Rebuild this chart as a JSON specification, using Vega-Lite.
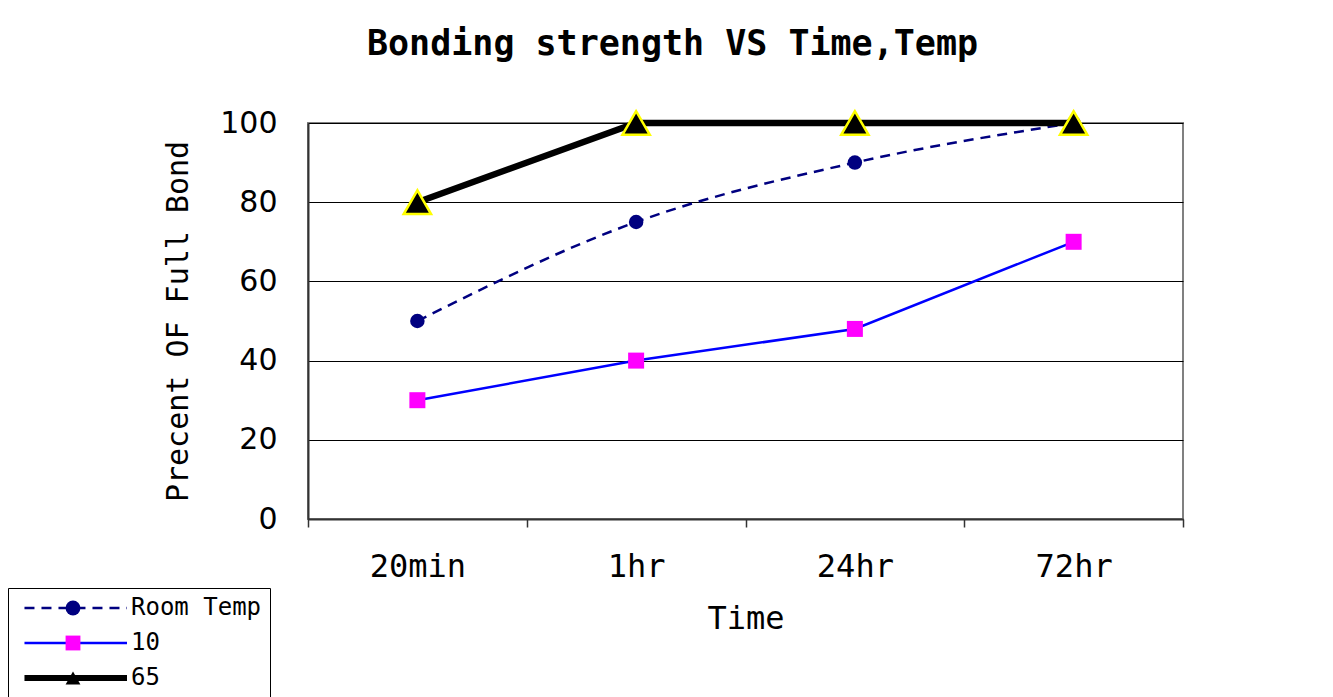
{
  "$schema": "https://vega.github.io/schema/vega-lite/v6.json",
  "autosize": "none",
  "padding": {"left": 308, "top": 123, "right": 150, "bottom": 178},
  "width": 875,
  "height": 396,
  "background": "white",
  "title": {
    "text": "Bonding strength VS Time,Temp",
    "font": "DejaVu Sans Mono",
    "fontSize": 35,
    "fontWeight": "bold",
    "color": "black",
    "anchor": "middle",
    "dx": -73,
    "offset": 44
  },
  "data": {
    "values": [
      {"time": "20min", "series": "Room Temp", "value": 50},
      {"time": "1hr", "series": "Room Temp", "value": 75},
      {"time": "24hr", "series": "Room Temp", "value": 90},
      {"time": "72hr", "series": "Room Temp", "value": 100},
      {"time": "20min", "series": "10", "value": 30},
      {"time": "1hr", "series": "10", "value": 40},
      {"time": "24hr", "series": "10", "value": 48},
      {"time": "72hr", "series": "10", "value": 70},
      {"time": "20min", "series": "65", "value": 80},
      {"time": "1hr", "series": "65", "value": 100},
      {"time": "24hr", "series": "65", "value": 100},
      {"time": "72hr", "series": "65", "value": 100}
    ]
  },
  "encoding": {
    "x": {
      "field": "time",
      "type": "nominal",
      "sort": ["20min", "1hr", "24hr", "72hr"],
      "scale": {"type": "band", "paddingInner": 0, "paddingOuter": 0},
      "bandPosition": 0.5,
      "axis": {
        "title": "Time",
        "labelAngle": 0,
        "tickBand": "extent",
        "tickSize": 8,
        "tickColor": "#333333",
        "tickWidth": 1.5,
        "domainColor": "#333333",
        "domainWidth": 2,
        "labelFont": "DejaVu Sans Mono",
        "labelFontSize": 32,
        "labelColor": "black",
        "labelPadding": 24,
        "titleFont": "DejaVu Sans Mono",
        "titleFontSize": 32,
        "titleFontWeight": "normal",
        "titleColor": "black",
        "titlePadding": 21,
        "grid": false
      }
    },
    "y": {
      "field": "value",
      "type": "quantitative",
      "scale": {"domain": [0, 100], "nice": false},
      "axis": {
        "title": "Precent OF Full Bond",
        "values": [0, 20, 40, 60, 80, 100],
        "grid": true,
        "gridColor": "black",
        "gridWidth": 1,
        "gridOpacity": 1,
        "tickSize": 0,
        "domainColor": "#333333",
        "domainWidth": 2,
        "labelFont": "DejaVu Sans",
        "labelFontSize": 30,
        "labelColor": "black",
        "labelPadding": 31,
        "titleFont": "DejaVu Sans Mono",
        "titleFontSize": 30,
        "titleFontWeight": "normal",
        "titleColor": "black",
        "titlePadding": 26
      }
    }
  },
  "layer": [
    {
      "transform": [{"filter": "datum.series === '10'"}],
      "mark": {"type": "line", "interpolate": "linear", "strokeWidth": 2.5},
      "encoding": {
        "stroke": {
          "field": "series",
          "type": "nominal",
          "scale": {"domain": ["Room Temp", "10", "65"], "range": ["#000080", "#0000FF", "#000000"]},
          "legend": {
            "title": null,
            "orient": "none",
            "legendX": -300,
            "legendY": 465,
            "symbolType": "M-0.47,0H13.2",
            "symbolSize": 225,
            "labelOffset": 91,
            "strokeColor": "black",
            "fillColor": "white",
            "padding": 8,
            "rowPadding": 11,
            "labelFont": "DejaVu Sans Mono",
            "labelFontSize": 24,
            "labelColor": "black",
            "zindex": 0,
            "encode": {
              "symbols": {
                "update": {
                  "strokeWidth": {"signal": "datum.value === '65' ? 6 : 2.5"},
                  "strokeDash": {"signal": "datum.value === 'Room Temp' ? [10, 7] : [1, 0]"},
                  "opacity": {"value": 1}
                }
              }
            }
          }
        }
      }
    },
    {
      "transform": [{"filter": "datum.series === 'Room Temp'"}],
      "mark": {"type": "line", "interpolate": "monotone", "strokeWidth": 2.5, "strokeDash": [10, 7]},
      "encoding": {
        "stroke": {"field": "series", "type": "nominal"}
      }
    },
    {
      "transform": [{"filter": "datum.series === '65'"}],
      "mark": {"type": "line", "interpolate": "linear", "strokeWidth": 6.5},
      "encoding": {
        "stroke": {"field": "series", "type": "nominal"}
      }
    },
    {
      "mark": {"type": "point", "filled": true, "opacity": 1},
      "encoding": {
        "shape": {
          "field": "series",
          "type": "nominal",
          "sort": {"field": "value", "op": "variance", "order": "descending"},
          "scale": {"range": ["circle", "square", "triangle-up"]},
          "legend": {
            "title": null,
            "orient": "none",
            "legendX": -255,
            "legendY": 465,
            "symbolSize": 220,
            "padding": 8,
            "rowPadding": 11,
            "labelOffset": 9,
            "labelFont": "DejaVu Sans Mono",
            "labelFontSize": 24,
            "labelColor": "transparent",
            "labelExpr": "' '",
            "zindex": 1,
            "encode": {
              "symbols": {
                "update": {
                  "stroke": {"signal": "datum.value === '65' ? '#FFFF00' : 'transparent'"},
                  "strokeWidth": {"value": 2.5}
                },
                "stroke": {"value": {"expr": "datum.value === '65' ? '#FFFF00' : 'transparent'"}},
                "strokeWidth": {"value": 2.5}
              }
            }
          }
        },
        "fill": {
          "field": "series",
          "type": "nominal",
          "sort": {"field": "value", "op": "variance", "order": "descending"},
          "scale": {"range": ["#000080", "#FF00FF", "#000000"]}
        },
        "stroke": {
          "condition": {"test": "datum.series === '65'", "value": "#FFFF00"},
          "value": null
        },
        "strokeWidth": {"value": 2.5},
        "size": {
          "condition": [
            {"test": "datum.series === '65'", "value": 750},
            {"test": "datum.series === '10'", "value": 256}
          ],
          "value": 210
        }
      }
    }
  ],
  "config": {
    "view": {"stroke": "#808080", "strokeWidth": 2},
    "font": "DejaVu Sans Mono"
  }
}
